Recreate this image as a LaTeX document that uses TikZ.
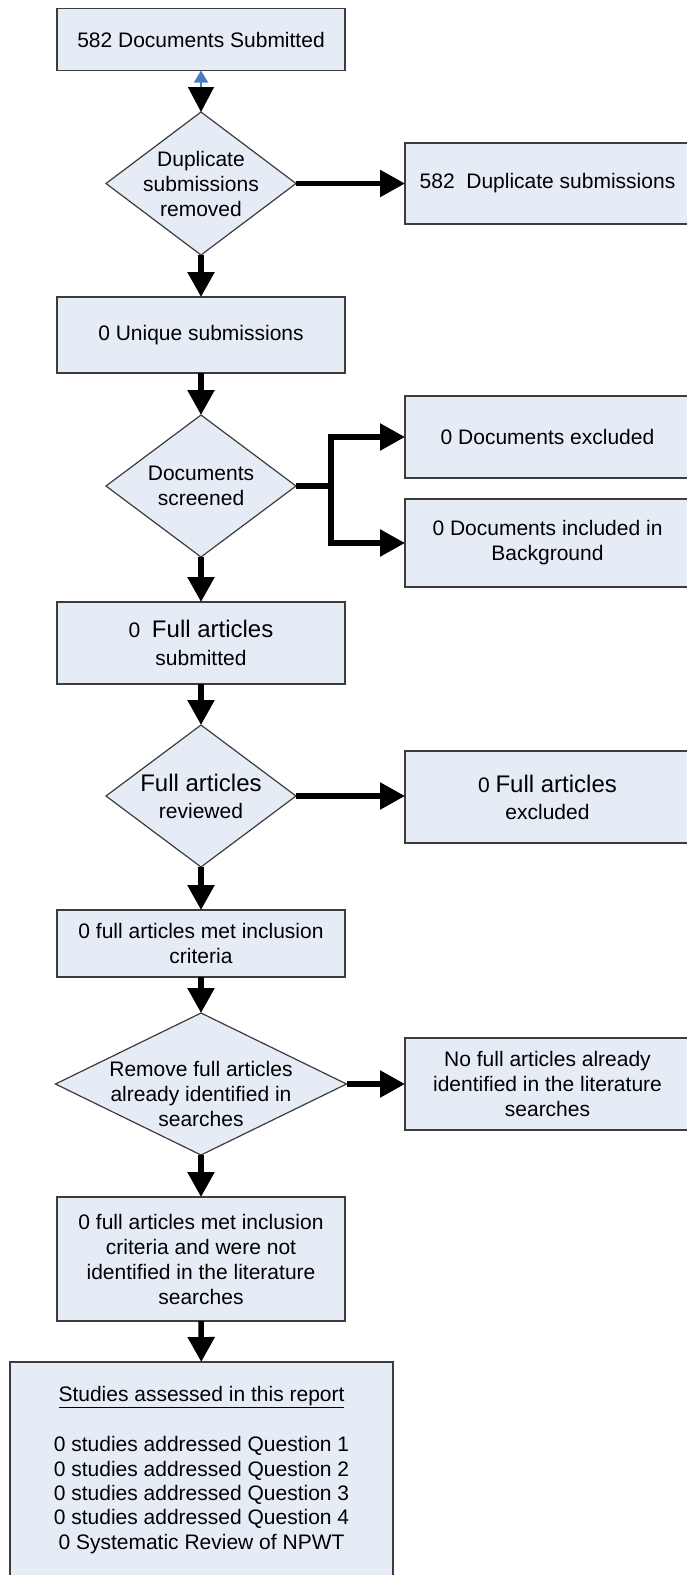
\documentclass[tikz,border=0pt]{standalone}
\usepackage{fontspec}
\setmainfont{Liberation Sans}
\usetikzlibrary{arrows.meta,shapes.geometric}

\definecolor{boxfill}{HTML}{E6ECF6}
\definecolor{boxline}{HTML}{3C3C3C}
\definecolor{tipblue}{HTML}{4A7CC0}

\tikzset{
  box/.style={draw=boxline, fill=boxfill, line width=1.2pt, rectangle,
              inner sep=0pt, outer sep=0pt, align=center,
              font=\fontsize{21}{25}\selectfont},
  decision/.style={draw=boxline, fill=boxfill, line width=1.2pt, diamond,
              inner sep=0pt, outer sep=0pt},
  dtext/.style={inner sep=0pt, align=center, font=\fontsize{21}{25}\selectfont},
  flow/.style={line width=5.5pt, -{Triangle[length=25pt,width=26pt]}},
}
\newcommand{\bigword}[1]{{\fontsize{24}{28}\selectfont #1}}

\begin{document}
\begin{tikzpicture}[x=1pt,y=-1pt]
\useasboundingbox (0,0) rectangle (686,1575);

% left column
\node[box, minimum width=288pt, minimum height=62pt] (b1) at (201,39.5) {582 Documents Submitted};
\node[decision, minimum width=190pt, minimum height=143pt] (d1) at (201,183.5) {};
\node[dtext] (d1t) at (d1.center) {Duplicate\\submissions\\removed};
\node[box, minimum width=288pt, minimum height=76pt] (b2) at (201,335) {0 Unique submissions};
\node[decision, minimum width=190pt, minimum height=142pt] (d2) at (201,486) {};
\node[dtext] (d2t) at (d2.center) {Documents\\screened};
\node[box, minimum width=288pt, minimum height=82pt] (b3) at (201,643) {0\ \ \bigword{Full articles}\\[3pt]submitted};
\node[decision, minimum width=190pt, minimum height=142pt] (d3) at (201,796) {};
\node[dtext] (d3t) at (d3.center) {\bigword{Full articles}\\[2pt]reviewed};
\node[box, minimum width=288pt, minimum height=67pt] (b4) at (201,943.5) {0 full articles met inclusion\\criteria};
\node[decision, minimum width=291pt, minimum height=142pt] (d4) at (201,1084) {};
\node[dtext] (d4t) at (201,1094) {Remove full articles\\already identified in\\searches};
\node[box, minimum width=288pt, minimum height=124pt] (b5) at (201,1259) {0 full articles met inclusion\\criteria and were not\\identified in the literature\\searches};
\node[box, minimum width=383pt, minimum height=240pt, anchor=north] (b6) at (201.5,1362) {};
\node[dtext, anchor=north, font=\fontsize{21}{24.4}\selectfont] (b6t) at (201.5,1386)
  {\underline{Studies assessed in this report}\\[25.8pt]
   0 studies addressed Question 1\\
   0 studies addressed Question 2\\
   0 studies addressed Question 3\\
   0 studies addressed Question 4\\
   0 Systematic Review of NPWT};

% right column
\node[box, minimum width=285pt, minimum height=81pt] (r1) at (547.5,183.5) {582\ \ Duplicate submissions};
\node[box, minimum width=285pt, minimum height=82pt] (r2) at (547.5,437) {0 Documents excluded};
\node[box, minimum width=285pt, minimum height=88pt] (r3) at (547.5,543) {0 Documents included in\\Background};
\node[box, minimum width=285pt, minimum height=92pt] (r4) at (547.5,797) {0 \bigword{Full articles}\\[2pt]excluded};
\node[box, minimum width=285pt, minimum height=92pt] (r5) at (547.5,1084) {No full articles already\\identified in the literature\\searches};

% connectors
\draw[line width=1.5pt, draw=tipblue,
      {Triangle[length=12pt,width=14pt,color=tipblue]}-{Triangle[length=25pt,width=26pt,color=black]}]
      (b1) -- (d1);
\draw[flow] (d1) -- (b2);
\draw[flow] (b2) -- (d2);
\draw[flow] (d2) -- (b3);
\draw[flow] (b3) -- (d3);
\draw[flow] (d3) -- (b4);
\draw[flow] (b4) -- (d4);
\draw[flow] (d4) -- (b5);
\draw[flow] (b5) -- (b6);

\draw[flow] (d1.east) -- (r1.west);
\coordinate (split) at (331,486);
\draw[line width=5.5pt] (d2.east) -- (split);
\draw[flow] (split) |- (r2.west);
\draw[flow] (split) |- (r3.west);
\draw[flow] (d3.east) -- (d3.east -| r4.west);
\draw[flow] (d4.east) -- (r5.west);
\end{tikzpicture}
\end{document}
